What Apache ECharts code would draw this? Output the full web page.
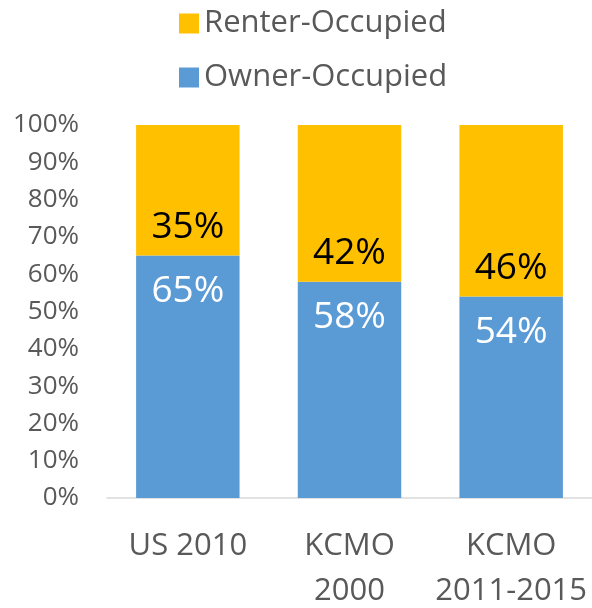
<!DOCTYPE html>
<html>
<head>
<meta charset="utf-8">
<script src="https://cdn.jsdelivr.net/npm/echarts@6/dist/echarts.min.js"></script>
<style>
  html, body { margin: 0; padding: 0; background: #fff; }
  #chart { width: 592px; height: 608px; }
</style>
</head>
<body>
<div id="chart"></div>
<script>
const categories = ['US 2010', 'KCMO\n2000', 'KCMO\n2011-2015']
const ownerValues = [65, 58, 54]
const renterValues = [35, 42, 46]

const chart = echarts.init(document.getElementById('chart'))
chart.setOption({
  animation: false,
  textStyle: { fontFamily: 'Open Sans' },
  legend: {
    orient: 'vertical',
    left: 174,
    top: 3,
    itemWidth: 20,
    itemHeight: 20,
    itemGap: 23,
    icon: 'rect',
    data: ['Renter-Occupied', 'Owner-Occupied'],
    textStyle: { fontSize: 31, color: '#595959', lineHeight: 30 }
  },
  grid: { left: 107, right: 0, top: 125, bottom: 110, containLabel: false, outerBoundsMode: 'none' },
  xAxis: {
    type: 'category',
    data: categories,
    axisLine: { lineStyle: { color: '#d9d9d9', width: 1.5 } },
    axisTick: { show: false },
    axisLabel: { interval: 0, hideOverlap: false, fontSize: 31, color: '#595959', lineHeight: 45, margin: 26 }
  },
  yAxis: {
    type: 'value',
    min: 0,
    max: 100,
    interval: 10,
    splitLine: { show: false },
    axisLine: { show: false },
    axisLabel: { fontSize: 26, color: '#595959', margin: 28, formatter: '{value}%' }
  },
  series: [
    {
      name: 'Owner-Occupied',
      type: 'bar',
      stack: 'all',
      barCategoryGap: '36%',
      data: ownerValues,
      itemStyle: { color: '#5b9bd5' },
      label: { show: true, position: 'insideTop', distance: 17, formatter: '{c}%', fontSize: 37, color: '#fff' }
    },
    {
      name: 'Renter-Occupied',
      type: 'bar',
      stack: 'all',
      data: renterValues,
      itemStyle: { color: '#ffc000' },
      label: { show: true, position: 'insideBottom', distance: 10, formatter: '{c}%', fontSize: 37, color: '#000' }
    }
  ]
})
</script>
</body>
</html>
